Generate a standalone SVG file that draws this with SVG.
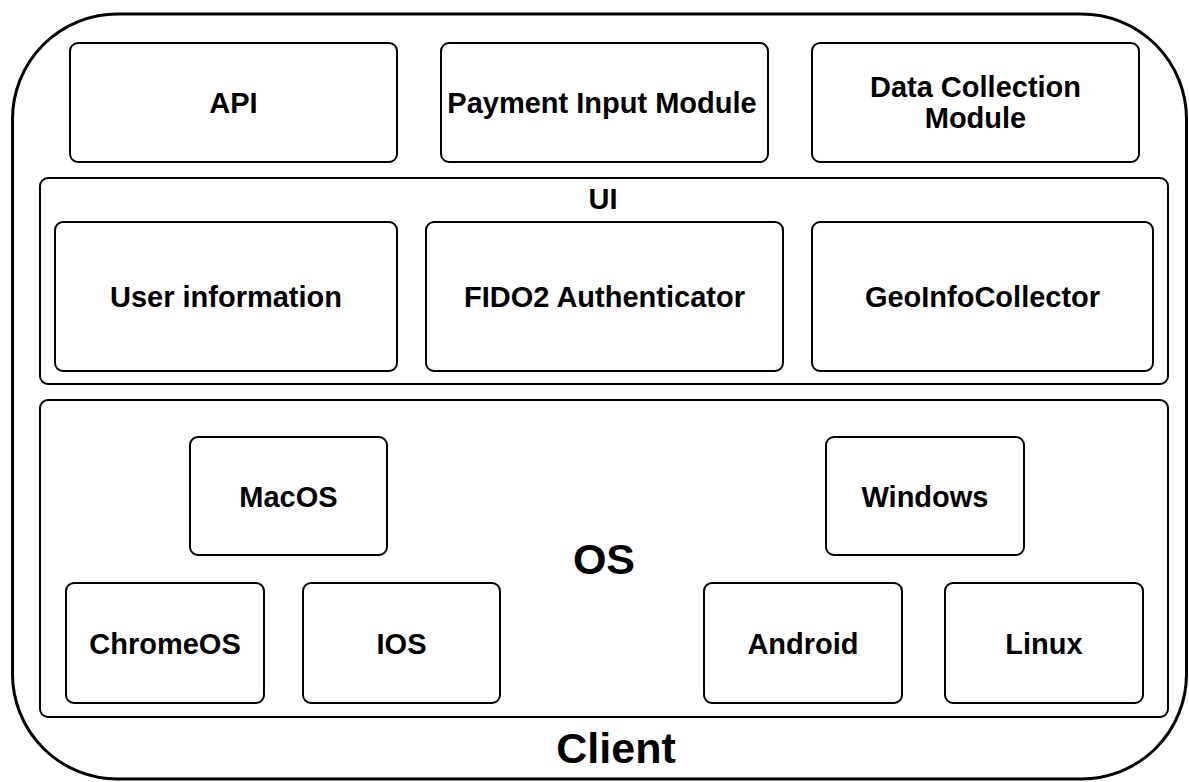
<svg xmlns="http://www.w3.org/2000/svg" width="1189" height="782" viewBox="0 0 1189 782">
<style>
.box{fill:#fff;stroke:#000;stroke-width:2}
.lbl{font-family:"Liberation Sans",Arial,sans-serif;font-weight:bold;font-size:29px;fill:#000;text-anchor:middle}
.big{font-family:"Liberation Sans",Arial,sans-serif;font-weight:bold;font-size:43px;fill:#000;text-anchor:middle}
</style>
<rect width="1189" height="782" fill="#fff"/>
<g id="client">
<rect x="12.5" y="14" width="1174" height="765" rx="105" ry="105" fill="#fff" stroke="#000" stroke-width="3"/>
<text class="big" x="616" y="763">Client</text>
</g>
<g id="api"><rect class="box" x="70" y="43" width="327" height="119" rx="8"/><text class="lbl" x="233.5" y="113">API</text></g>
<g id="payment"><rect class="box" x="441" y="43" width="327" height="119" rx="8"/><text class="lbl" x="602" y="113">Payment Input Module</text></g>
<g id="datacollection"><rect class="box" x="812" y="43" width="327" height="119" rx="8"/><text class="lbl" x="975.5" y="97">Data Collection</text><text class="lbl" x="975.5" y="128">Module</text></g>
<g id="ui"><rect class="box" x="40" y="178" width="1128" height="206" rx="8"/><text class="lbl" x="603" y="209">UI</text></g>
<g id="userinfo"><rect class="box" x="55" y="222" width="342" height="149" rx="8"/><text class="lbl" x="226" y="307">User information</text></g>
<g id="fido2"><rect class="box" x="426" y="222" width="357" height="149" rx="8"/><text class="lbl" x="604.5" y="307">FIDO2 Authenticator</text></g>
<g id="geoinfo"><rect class="box" x="812" y="222" width="341" height="149" rx="8"/><text class="lbl" x="982.5" y="307">GeoInfoCollector</text></g>
<g id="os"><rect class="box" x="40" y="400" width="1128" height="317" rx="8"/><text class="big" x="604" y="574">OS</text></g>
<g id="macos"><rect class="box" x="190" y="437" width="197" height="118" rx="8"/><text class="lbl" x="288.5" y="507">MacOS</text></g>
<g id="windows"><rect class="box" x="826" y="437" width="198" height="118" rx="8"/><text class="lbl" x="925" y="507">Windows</text></g>
<g id="chromeos"><rect class="box" x="66" y="583" width="198" height="120" rx="8"/><text class="lbl" x="165" y="654">ChromeOS</text></g>
<g id="ios"><rect class="box" x="303" y="583" width="197" height="120" rx="8"/><text class="lbl" x="401.5" y="654">IOS</text></g>
<g id="android"><rect class="box" x="704" y="583" width="198" height="120" rx="8"/><text class="lbl" x="803" y="654">Android</text></g>
<g id="linux"><rect class="box" x="945" y="583" width="198" height="120" rx="8"/><text class="lbl" x="1044" y="654">Linux</text></g>
<g id="connectors"></g>
</svg>
